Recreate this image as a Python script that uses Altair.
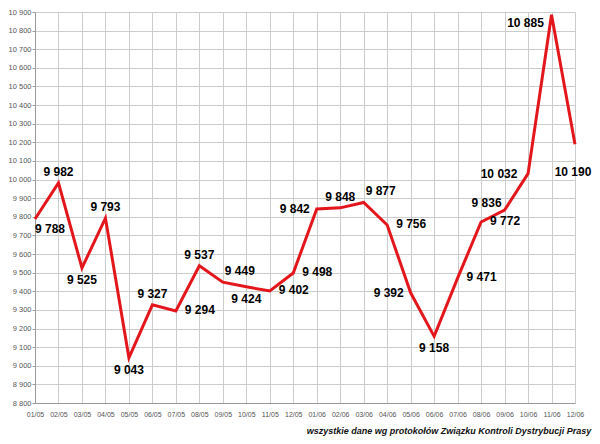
import altair as alt
import pandas as pd

# ---- data ----
months = ["01/05", "02/05", "03/05", "04/05", "05/05", "06/05", "07/05", "08/05",
          "09/05", "10/05", "11/05", "12/05", "01/06", "02/06", "03/06", "04/06",
          "05/06", "06/06", "07/06", "08/06", "09/06", "10/06", "11/06", "12/06"]
values = [9788, 9982, 9525, 9793, 9043, 9327, 9294, 9537,
          9449, 9424, 9402, 9498, 9842, 9848, 9877, 9756,
          9392, 9158, 9471, 9772, 9836, 10032, 10885, 10190]
y_ticks = list(range(8800, 11000, 100))

# ---- label placement style (named nudges) ----
placement_offsets = {
    "above": (0, -11),
    "below": (0, 12),
    "right": (24, -1),
    "left": (-22, 0),
    "upper_right": (17, -11),
    "lower_right": (15, 10),
    "left_up": (-18, -7),
    "far_left": (-29, 0),
    "far_left_low": (-26, 8),
    "far_below": (-2, 28),
}
placement_of = {
    "01/05": "lower_right", "02/05": "above", "03/05": "below", "04/05": "above",
    "05/05": "below", "06/05": "above", "07/05": "right", "08/05": "above",
    "09/05": "upper_right", "10/05": "below", "11/05": "right", "12/05": "right",
    "01/06": "left", "02/06": "above", "03/06": "upper_right", "04/06": "right",
    "05/06": "left", "06/06": "below", "07/06": "right", "08/06": "right",
    "09/06": "left_up", "10/06": "far_left", "11/06": "far_left_low", "12/06": "far_below",
}

df = pd.DataFrame({"month": months, "value": values})
df["label"] = [f"{v:,}".replace(",", " ") for v in values]
df["place"] = [placement_of[m] for m in months]

FONT = "Liberation Sans"

x_enc = alt.X(
    "month:N", sort=months,
    scale=alt.Scale(type="point", padding=0),
    axis=alt.Axis(title=None, labelAngle=0, labelFontSize=7, labelColor="#555555",
                  ticks=False, labelPadding=7, grid=True, labelOverlap=False,
                  labelFlush=False, domainColor="#9a9a9a"),
)
y_enc = alt.Y(
    "value:Q",
    scale=alt.Scale(domain=[8800, 10900], nice=False, zero=False),
    axis=alt.Axis(title=None, values=y_ticks, labelFontSize=7.5, labelColor="#555555",
                  tickSize=3, tickColor="#9a9a9a", labelPadding=1, grid=True,
                  domainColor="#9a9a9a",
                  labelExpr="replace(format(datum.value, ','), ',', ' ')"),
)

base = alt.Chart(df)
line = base.mark_line(color="#e3161c", strokeWidth=3, strokeJoin="miter").encode(
    x=x_enc, y=y_enc
)

text_layers = []
for place, (dx, dy) in placement_offsets.items():
    text_layers.append(
        base.transform_filter(alt.datum.place == place)
        .mark_text(dx=dx, dy=dy, font=FONT, fontSize=12, fontWeight="bold",
                   color="#000000", align="center", baseline="middle")
        .encode(x=x_enc, y=y_enc, text="label:N")
    )

chart = (
    alt.layer(line, *text_layers)
    .properties(
        width=540, height=391,
        autosize="none",
        padding={"left": 27, "top": 4, "right": 17, "bottom": 33},
        title=alt.TitleParams(
            text="wszystkie dane wg protokołów Związku Kontroli Dystrybucji Prasy",
            orient="bottom", anchor="end", font=FONT, fontSize=9,
            fontWeight="bold", fontStyle="italic", color="#111111", offset=10,
        ),
        background="white",
    )
    .configure_axis(labelFont=FONT, gridColor="#cccccc", gridWidth=1)
    .configure_view(stroke=None)
)

chart.save("out.html", embed_options={"renderer": "svg", "actions": False})
